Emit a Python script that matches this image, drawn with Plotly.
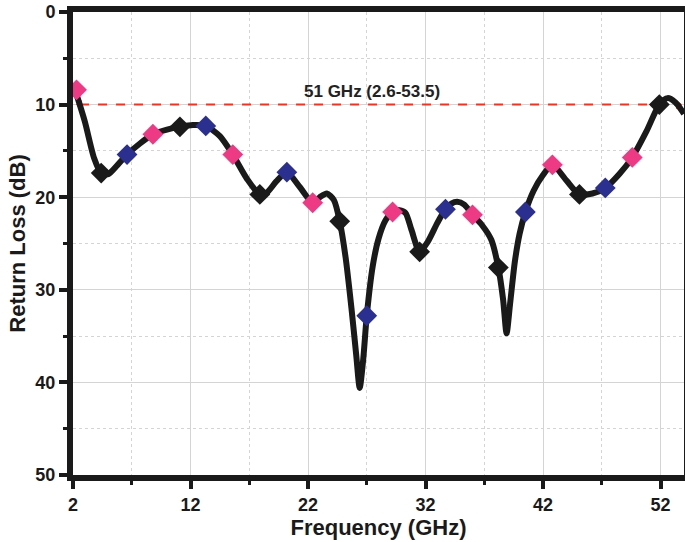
import plotly.graph_objects as go

# return loss curve
freq = [2.2, 3.0, 3.8, 4.4, 5.0, 5.8, 6.6, 7.7, 8.8, 10.0, 11.1, 12.2, 13.3, 14.5,
        15.6, 16.8, 17.9, 18.5, 19.3, 20.2, 21.3, 22.4, 23.0, 23.6, 24.2, 24.7,
        25.2, 25.7, 26.1, 26.4, 26.7, 27.0, 27.5, 28.0, 28.6, 29.2, 29.8, 30.3,
        30.8, 31.5, 32.2, 33.0, 33.7, 34.2, 34.7, 35.3, 36.0, 36.8, 37.6, 38.2,
        38.6, 38.9, 39.2, 39.6, 40.0, 40.5, 41.2, 42.0, 42.8, 44.0, 45.1, 46.2,
        47.3, 48.5, 49.6, 50.8, 51.9, 52.6, 53.3, 54.0]
rl = [8.5, 11.8, 15.8, 17.4, 17.5, 16.5, 15.4, 14.2, 13.2, 12.7, 12.4, 12.2, 12.3, 13.4,
      15.4, 18.0, 19.7, 19.5, 18.3, 17.3, 18.9, 20.6, 20.0, 19.6, 20.3, 22.6,
      26.5, 32.0, 37.0, 40.6, 37.5, 32.8, 27.5, 24.5, 22.5, 21.6, 21.4, 21.7,
      23.5, 25.9, 24.8, 22.8, 21.3, 20.7, 20.5, 20.8, 21.9, 23.0, 24.6, 27.6,
      31.0, 34.7, 31.5, 27.0, 24.0, 21.6, 19.3, 17.6, 16.5, 18.2, 19.7, 19.6,
      19.0, 17.5, 15.7, 12.9, 10.0, 9.3, 9.8, 11.0]

# diamond markers, three colours
pink_x = [2.3, 8.8, 15.6, 22.4, 29.2, 36.0, 42.8, 49.6]
pink_y = [8.4, 13.2, 15.4, 20.6, 21.6, 21.9, 16.5, 15.7]
black_x = [4.4, 11.1, 17.9, 24.7, 31.5, 38.2, 45.1, 51.9]
black_y = [17.4, 12.4, 19.7, 22.6, 25.9, 27.6, 19.7, 10.0]
blue_x = [6.6, 13.3, 20.2, 27.0, 33.7, 40.5, 47.3]
blue_y = [15.4, 12.3, 17.3, 32.8, 21.3, 21.6, 19.0]

# axis ticks
x_ticks = [2, 12, 22, 32, 42, 52]
y_ticks = [0, 10, 20, 30, 40, 50]

# bandwidth marker
band_x = [2.6, 53.5]
band_level = 10
band_text = "51 GHz (2.6-53.5)"

fnt = "Liberation Sans, Arial, sans-serif"

fig = go.Figure()

fig.add_trace(go.Scatter(
    x=band_x, y=[band_level] * len(band_x), mode="lines+markers",
    line=dict(color="#EE3524", width=2, dash="dash"),
    marker=dict(symbol=["triangle-left", "triangle-right"], size=8, color="#EE3524"),
    hoverinfo="skip"))

fig.add_trace(go.Scatter(
    x=freq, y=rl, mode="lines",
    line=dict(color="#1a1a1a", width=6, shape="spline", smoothing=0.7)))

for xs, ys, col in [(pink_x, pink_y, "#EE3A84"),
                    (black_x, black_y, "#1a1a1a"),
                    (blue_x, blue_y, "#2B3090")]:
    fig.add_trace(go.Scatter(
        x=xs, y=ys, mode="markers",
        marker=dict(symbol="diamond", size=16, color=col, line=dict(width=0))))

fig.add_annotation(
    x=(band_x[0] + band_x[1]) / 2 - 0.6, y=band_level, yshift=13,
    text="<b>" + band_text + "</b>",
    showarrow=False, font=dict(family=fnt, size=17, color="#222222"))

fig.update_layout(
    width=685, height=542,
    margin=dict(l=73, r=1, t=12, b=67),
    plot_bgcolor="white", paper_bgcolor="white",
    showlegend=False,
    font=dict(family=fnt, size=18, color="#1a1a1a"),
)

fig.update_xaxes(
    range=[2, 54], automargin=False,
    tickvals=x_ticks, ticktext=["<b>%d</b>" % v for v in x_ticks],
    showline=True, linewidth=6, linecolor="#1a1a1a", mirror=True,
    ticks="outside", ticklen=8, tickwidth=4, tickcolor="#1a1a1a",
    showgrid=True, gridcolor="#d4d4d4", gridwidth=1, zeroline=False,
    minor=dict(dtick=5, tick0=2, ticks="outside", ticklen=4, tickwidth=3,
               tickcolor="#1a1a1a", showgrid=True, gridcolor="#d4d4d4", griddash="dot"),
    tickfont=dict(family=fnt, size=18),
    title=dict(text="<b>Frequency (GHz)</b>", font=dict(family=fnt, size=22), standoff=0),
)

fig.update_yaxes(
    range=[50, 0], automargin=False,
    tickvals=y_ticks, ticktext=["<b>%d</b>" % v for v in y_ticks],
    showline=True, linewidth=6, linecolor="#1a1a1a", mirror=True,
    ticks="outside", ticklen=8, tickwidth=4, tickcolor="#1a1a1a",
    showgrid=True, gridcolor="#d4d4d4", gridwidth=1, zeroline=False,
    minor=dict(dtick=5, tick0=0, ticks="outside", ticklen=4, tickwidth=3,
               tickcolor="#1a1a1a", showgrid=True, gridcolor="#d4d4d4", griddash="dot"),
    tickfont=dict(family=fnt, size=18),
    title=dict(text="<b>Return Loss (dB)</b>", font=dict(family=fnt, size=22), standoff=6),
)

# page body has a default 8px margin; drop it so the figure fills the window
fig.write_html("out.html", config={"displayModeBar": False},
               post_script="document.body.style.margin='0px';")
